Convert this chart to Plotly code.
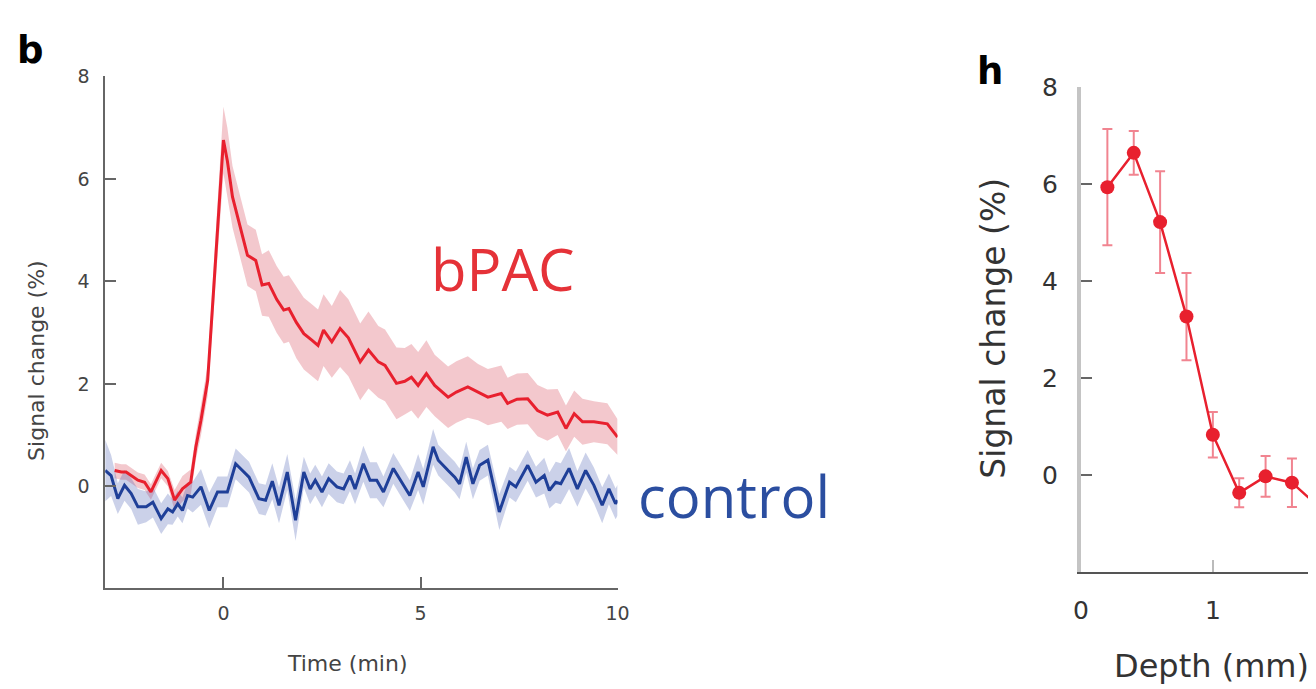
import plotly.graph_objects as go

# ---------------- Panel b: time courses ----------------
bpac_t = [-2.76, -2.59, -2.47, -2.17, -2.00, -1.84, -1.58, -1.41, -1.24, -1.04, -0.83, -0.70,
          -0.57, -0.40, 0.00, 0.10, 0.23, 0.61, 0.82, 0.98, 1.15, 1.35, 1.53, 1.66, 1.85,
          2.04, 2.25, 2.40, 2.54, 2.75, 2.96, 3.17, 3.47, 3.68, 3.93, 4.10, 4.39, 4.60,
          4.77, 4.94, 5.15, 5.36, 5.70, 5.91, 6.20, 6.46, 6.71, 7.05, 7.21, 7.45, 7.72,
          7.97, 8.22, 8.48, 8.69, 8.90, 9.11, 9.40, 9.74, 10.0]
bpac_v = [0.31, 0.28, 0.28, 0.12, 0.08, -0.11, 0.31, 0.15, -0.27, -0.05, 0.08, 0.77,
          1.29, 2.07, 6.76, 6.35, 5.65, 4.51, 4.41, 3.93, 3.96, 3.65, 3.44, 3.47, 3.20,
          2.98, 2.85, 2.75, 3.05, 2.82, 3.08, 2.90, 2.43, 2.66, 2.43, 2.36, 2.01, 2.05,
          2.13, 1.97, 2.20, 1.97, 1.74, 1.84, 1.94, 1.84, 1.74, 1.81, 1.62, 1.70, 1.71,
          1.48, 1.39, 1.45, 1.13, 1.42, 1.26, 1.26, 1.22, 0.96]
bpac_err = [0.15, 0.15, 0.15, 0.15, 0.15, 0.15, 0.15, 0.15, 0.20, 0.25, 0.25, 0.25,
            0.30, 0.30, 0.65, 0.65, 0.60, 0.60, 0.60, 0.60, 0.65, 0.65, 0.65, 0.65, 0.70,
            0.70, 0.70, 0.70, 0.70, 0.70, 0.75, 0.75, 0.75, 0.75, 0.70, 0.70, 0.70, 0.65,
            0.65, 0.65, 0.65, 0.60, 0.60, 0.60, 0.60, 0.55, 0.55, 0.55, 0.50, 0.50, 0.50,
            0.50, 0.50, 0.45, 0.45, 0.45, 0.45, 0.40, 0.40, 0.35]

ctrl_t = [-3.00, -2.85, -2.68, -2.51, -2.34, -2.17, -1.96, -1.79, -1.58, -1.41, -1.29, -1.16,
          -1.04, -0.91, -0.78, -0.57, -0.36, -0.15, 0.10, 0.31, 0.65, 0.90, 1.07, 1.24,
          1.41, 1.62, 1.83, 2.04, 2.20, 2.33, 2.50, 2.67, 2.88, 3.05, 3.21, 3.34, 3.55,
          3.72, 3.89, 4.06, 4.31, 4.52, 4.73, 4.94, 5.07, 5.32, 5.45, 5.70, 5.87, 5.99,
          6.16, 6.33, 6.50, 6.71, 7.00, 7.26, 7.42, 7.72, 7.93, 8.14, 8.27, 8.43, 8.56,
          8.77, 8.98, 9.19, 9.40, 9.61, 9.78, 9.95, 10.0]
ctrl_v = [0.31, 0.21, -0.24, 0.02, -0.14, -0.40, -0.40, -0.31, -0.63, -0.44, -0.50, -0.34,
          -0.47, -0.18, -0.21, -0.01, -0.47, -0.11, -0.11, 0.44, 0.18, -0.24, -0.27, 0.10,
          -0.37, 0.28, -0.66, 0.28, -0.05, 0.12, -0.11, 0.15, -0.01, -0.05, 0.21, -0.05, 0.44,
          0.12, 0.12, -0.11, 0.35, 0.08, -0.18, 0.28, -0.01, 0.77, 0.51, 0.31, 0.18, 0.05,
          0.57, 0.05, 0.41, 0.51, -0.50, 0.08, -0.01, 0.41, 0.08, 0.21, -0.08, 0.08, 0.05,
          0.35, -0.05, 0.31, 0.02, -0.37, -0.05, -0.34, -0.27]
ctrl_err = [0.60, 0.40, 0.30, 0.30, 0.30, 0.35, 0.30, 0.30, 0.30, 0.30, 0.25, 0.25,
            0.25, 0.25, 0.30, 0.35, 0.35, 0.30, 0.30, 0.30, 0.30, 0.30, 0.30, 0.35,
            0.35, 0.35, 0.40, 0.30, 0.30, 0.30, 0.30, 0.30, 0.30, 0.30, 0.30, 0.30, 0.35,
            0.35, 0.35, 0.30, 0.30, 0.30, 0.30, 0.35, 0.35, 0.35, 0.30, 0.30, 0.30, 0.30,
            0.30, 0.30, 0.30, 0.30, 0.35, 0.30, 0.30, 0.30, 0.30, 0.35, 0.35, 0.40, 0.40,
            0.40, 0.35, 0.35, 0.35, 0.35, 0.30, 0.30, 0.30]

b_xticks = [0, 5, 10]
b_yticks = [0, 2, 4, 6, 8]

# ---------------- Panel h: depth profile ----------------
depth_mm = [0.2, 0.4, 0.6, 0.8, 1.0, 1.2, 1.4, 1.6, 1.8]
depth_v = [5.94, 6.65, 5.22, 3.27, 0.83, -0.37, -0.03, -0.16, -0.65]
depth_err = [1.20, 0.45, 1.05, 0.90, 0.47, 0.30, 0.42, 0.50, 0.30]
h_xticks = [0, 1]
h_yticks = [0, 2, 4, 6, 8]

RED = "#e8202e"
BLUE = "#1f3f98"

W, H = 1316, 689
# empirical correction between layout pixels and the photographed page
SX, OX, SY, OY = 0.986, 14.7, 0.979, 21.6


def fx(X):
    return (X - OX) / SX


def fy(Y):
    return (Y - OY) / SY


def px(X):
    return min(1.0, fx(X) / W)


def py(Y):
    return 1 - fy(Y) / H


fig = go.Figure()


def band(t, v, e, color, xa, ya):
    up = [a + b for a, b in zip(v, e)]
    lo = [a - b for a, b in zip(v, e)]
    fig.add_trace(go.Scatter(x=list(t) + list(t)[::-1], y=up + lo[::-1], fill="toself",
                             fillcolor=color, line=dict(width=0), mode="lines",
                             hoverinfo="skip", showlegend=False, xaxis=xa, yaxis=ya))


band(bpac_t, bpac_v, bpac_err, "rgba(218,85,100,0.32)", "x", "y")
band(ctrl_t, ctrl_v, ctrl_err, "rgba(70,90,175,0.28)", "x", "y")
fig.add_trace(go.Scatter(x=bpac_t, y=bpac_v, mode="lines", line=dict(color=RED, width=3),
                         showlegend=False, xaxis="x", yaxis="y"))
fig.add_trace(go.Scatter(x=ctrl_t, y=ctrl_v, mode="lines", line=dict(color=BLUE, width=3),
                         showlegend=False, xaxis="x", yaxis="y"))

fig.add_trace(go.Scatter(x=depth_mm, y=depth_v, mode="lines+markers",
                         line=dict(color=RED, width=2.5),
                         marker=dict(color=RED, size=14),
                         error_y=dict(type="data", array=depth_err, visible=True,
                                      color="rgba(238,110,125,0.85)", thickness=2, width=5),
                         showlegend=False, xaxis="x2", yaxis="y2", cliponaxis=True))

# panel h x range: 0 at ref pixel 1081, 132 ref px per mm, cut at the right edge
h_left = fx(1081)
h_xmax = (W - h_left) / (132.0 / SX)

tickfont_b = dict(family="DejaVu Sans", size=19, color="#444")
tickfont_h = dict(family="DejaVu Sans", size=25, color="#333")

fig.update_layout(
    width=W, height=H, margin=dict(l=0, r=0, t=0, b=0),
    paper_bgcolor="white", plot_bgcolor="white",
    xaxis=dict(domain=[px(104), px(617)], range=[-3, 10], tickvals=b_xticks,
               showgrid=False, zeroline=False, showline=True, linecolor="#666", linewidth=1.5,
               ticks="inside", ticklen=11, tickcolor="#666", tickwidth=1.5,
               tickfont=tickfont_b, ticklabelstandoff=8, anchor="y"),
    yaxis=dict(domain=[py(587), py(76)], range=[-1.98, 8], tickvals=b_yticks,
               showgrid=False, zeroline=False, showline=True, linecolor="#666", linewidth=1.5,
               ticks="inside", ticklen=11, tickcolor="#666", tickwidth=1.5,
               tickfont=tickfont_b, ticklabelstandoff=10, anchor="x"),
    xaxis2=dict(domain=[px(1081), 1.0], range=[0, h_xmax], tickvals=h_xticks,
                showgrid=False, zeroline=False, showline=True, linecolor="#555", linewidth=2,
                ticks="inside", ticklen=12, tickcolor="#bbb", tickwidth=2,
                tickfont=tickfont_h, ticklabelstandoff=15, anchor="y2"),
    yaxis2=dict(domain=[py(571), py(87)], range=[-2, 8], tickvals=h_yticks,
                showgrid=False, zeroline=False, showline=True, linecolor="#c4c4c4", linewidth=4,
                ticks="inside", ticklen=11, tickcolor="#666", tickwidth=2,
                tickfont=tickfont_h, ticklabelstandoff=14, anchor="x2"),
)

annots = [
    dict(text="<b>b</b>", x=px(29), y=py(50), font=dict(family="DejaVu Sans", size=37, color="black")),
    dict(text="<b>h</b>", x=px(990), y=py(71), font=dict(family="DejaVu Sans", size=37, color="black")),
    dict(text="Signal change (%)", x=px(35), y=py(360), textangle=-90,
         font=dict(family="DejaVu Sans", size=22, color="#444")),
    dict(text="Time (min)", x=px(347), y=py(663),
         font=dict(family="DejaVu Sans", size=22, color="#444")),
    dict(text="Signal change (%)", x=px(994), y=py(328), textangle=-90,
         font=dict(family="DejaVu Sans", size=33, color="#333")),
    dict(text="Depth (mm)", x=px(1212), y=py(665),
         font=dict(family="DejaVu Sans", size=32, color="#333")),
    dict(text="bPAC", x=px(502), y=py(268),
         font=dict(family="Open Sans", size=58, color="#e53238")),
    dict(text="control", x=px(734), y=py(495),
         font=dict(family="Open Sans", size=58, color="#2b4ea0")),
]
for a in annots:
    a.update(xref="paper", yref="paper", showarrow=False, xanchor="center", yanchor="middle")
fig.update_layout(annotations=annots)

fig.write_html("out.html", config={"displayModeBar": False})
